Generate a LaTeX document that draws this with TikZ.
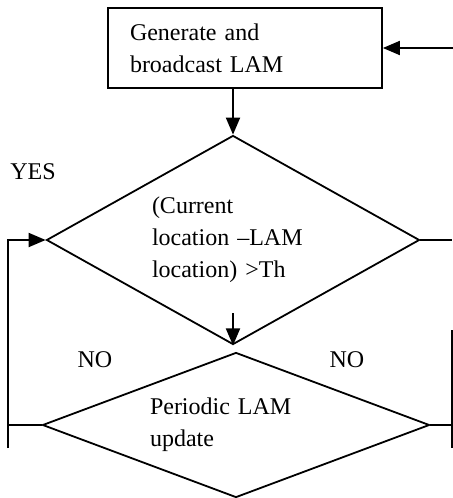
\documentclass[tikz,border=0pt]{standalone}
\usepackage{fontspec}
\setmainfont{Liberation Serif}
\usetikzlibrary{arrows.meta, positioning, shapes.geometric}
\tikzset{
x=0.5pt, y=-0.5pt, % one unit is one pixel of the drawing
every node/.style={font=\fontsize{12}{16}\selectfont}, % text size
stepbox/.style={draw, line width=0.9pt, minimum width=137pt, minimum height=40pt, inner xsep=11pt, text width=115pt, align=left}, % action box
test/.style={draw, diamond, line width=0.9pt, inner sep=0pt, align=left}, % decision diamond
flow/.style={line width=1pt, -{Triangle[length=8.5pt,width=7pt]}}, % directed connector
wire/.style={line width=0.9pt}, % plain connector
}
\begin{document}
\begin{tikzpicture}
      \useasboundingbox (0,0) rectangle (453,498);
      \node[stepbox] (lam) at (245,48) {Generate and\\broadcast LAM};
      \node[test, aspect=1.785, minimum width=186.5pt, minimum height=104.5pt, text width=81pt] (cmp) at (233,240) {(Current\\location –LAM\\location) >Th};
      \node[test, aspect=2.67, minimum width=193.5pt, minimum height=72.5pt, text width=86pt] (upd) at (236,425) {Periodic LAM\\update};

      \node (yes) at (33,172) {YES};
      \node (noL) at (95,360) {NO};
      \node (noR) at (347,360) {NO};

      \coordinate (feed) at (453,48);
      \coordinate (stub) at (233,313);
      \coordinate (lbot) at (8,448);
      \coordinate (rtop) at (452,330);
      \coordinate (rbot) at (452,448);

      \draw[flow] (feed) -- (lam.east);
      \draw[flow] (lam.south -| cmp.north) -- (cmp.north);
      \draw[flow] (stub) -- (cmp.south);
      \draw[flow] (lbot) |- (cmp.west);
      \draw[wire] (upd.west) -- (upd.west -| lbot);
      \draw[wire] (cmp.east) -- (cmp.east -| rtop);
      \draw[wire] (rtop) -- (rbot);
      \draw[wire] (upd.east) -- (upd.east -| rbot);
    \end{tikzpicture}
\end{document}
